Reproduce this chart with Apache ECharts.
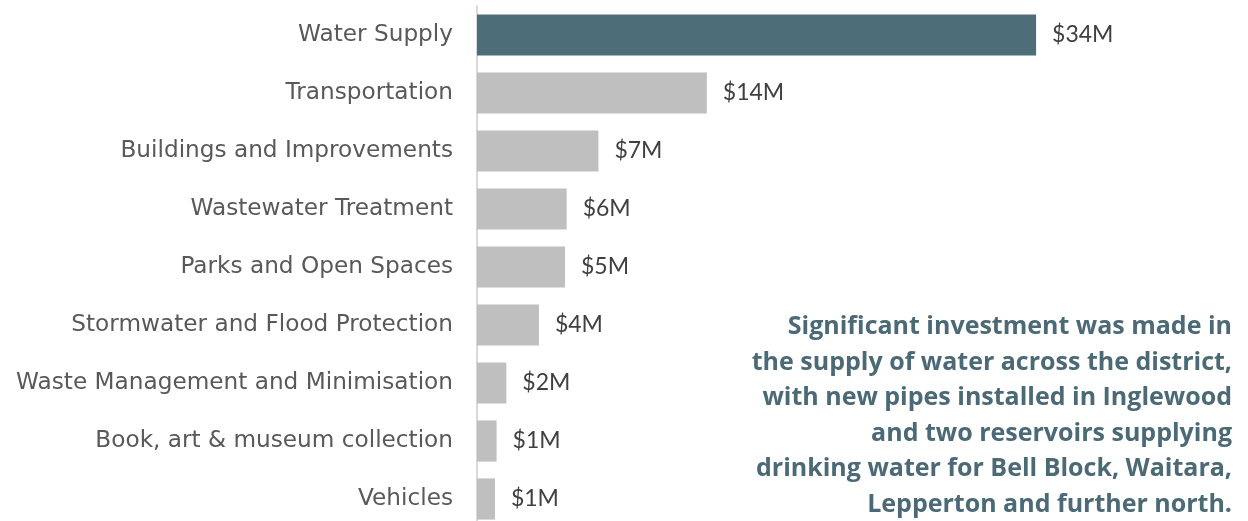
<!DOCTYPE html>
<html>
<head>
<meta charset="utf-8">
<script src="https://cdn.jsdelivr.net/npm/echarts@6/dist/echarts.min.js"></script>
<style>html,body{margin:0;padding:0;background:#fff}#c{width:1248px;height:521px}</style>
</head>
<body>
<div id="c"></div>
<script>
var categories = ["Water Supply","Transportation","Buildings and Improvements","Wastewater Treatment","Parks and Open Spaces","Stormwater and Flood Protection","Waste Management and Minimisation","Book, art & museum collection","Vehicles"];
var valuesM = [34.3, 14.1, 7.45, 5.5, 5.4, 3.8, 1.8, 1.2, 1.1];
var highlight = "Water Supply";
var annotation = ["Significant investment was made in","the supply of water across the district,","with new pipes installed in Inglewood","and two reservoirs supplying","drinking water for Bell Block, Waitara,","Lepperton and further north."];

var chart = echarts.init(document.getElementById('c'), null, {renderer:'canvas'});
chart.setOption({
  animation:false,
  grid:{left:477, top:6, width:652, height:522, containLabel:false, outerBoundsMode:'none'},
  xAxis:{type:'value', min:0, max:40, show:false},
  yAxis:{type:'category', data:categories, inverse:true,
    axisLine:{show:true, lineStyle:{color:'#d9d9d9', width:2}},
    axisTick:{show:false},
    axisLabel:{margin:24, color:'#595959', fontFamily:'DejaVu Sans', fontSize:23.2}},
  series:[{type:'bar', barCategoryGap:'29%',
    data: valuesM.map(function(v,i){return {value:v, itemStyle:{color: categories[i]===highlight ? '#4d6e78' : '#bfbfbf'}};}),
    label:{show:true, position:'right', distance:16, color:'#404040', fontFamily:'Lato', fontSize:23,
      formatter:function(p){return '$'+Math.round(p.value)+'M';}}
  }],
  graphic:[{type:'text', x:1232, y:309, style:{text:annotation.join('\n'), align:'right', verticalAlign:'top', textAlign:'right', textVerticalAlign:'top', lineHeight:35.6, font:'bold 25px "Open Sans"', fill:'#4b6a76'}}]
});
</script>
</body>
</html>
